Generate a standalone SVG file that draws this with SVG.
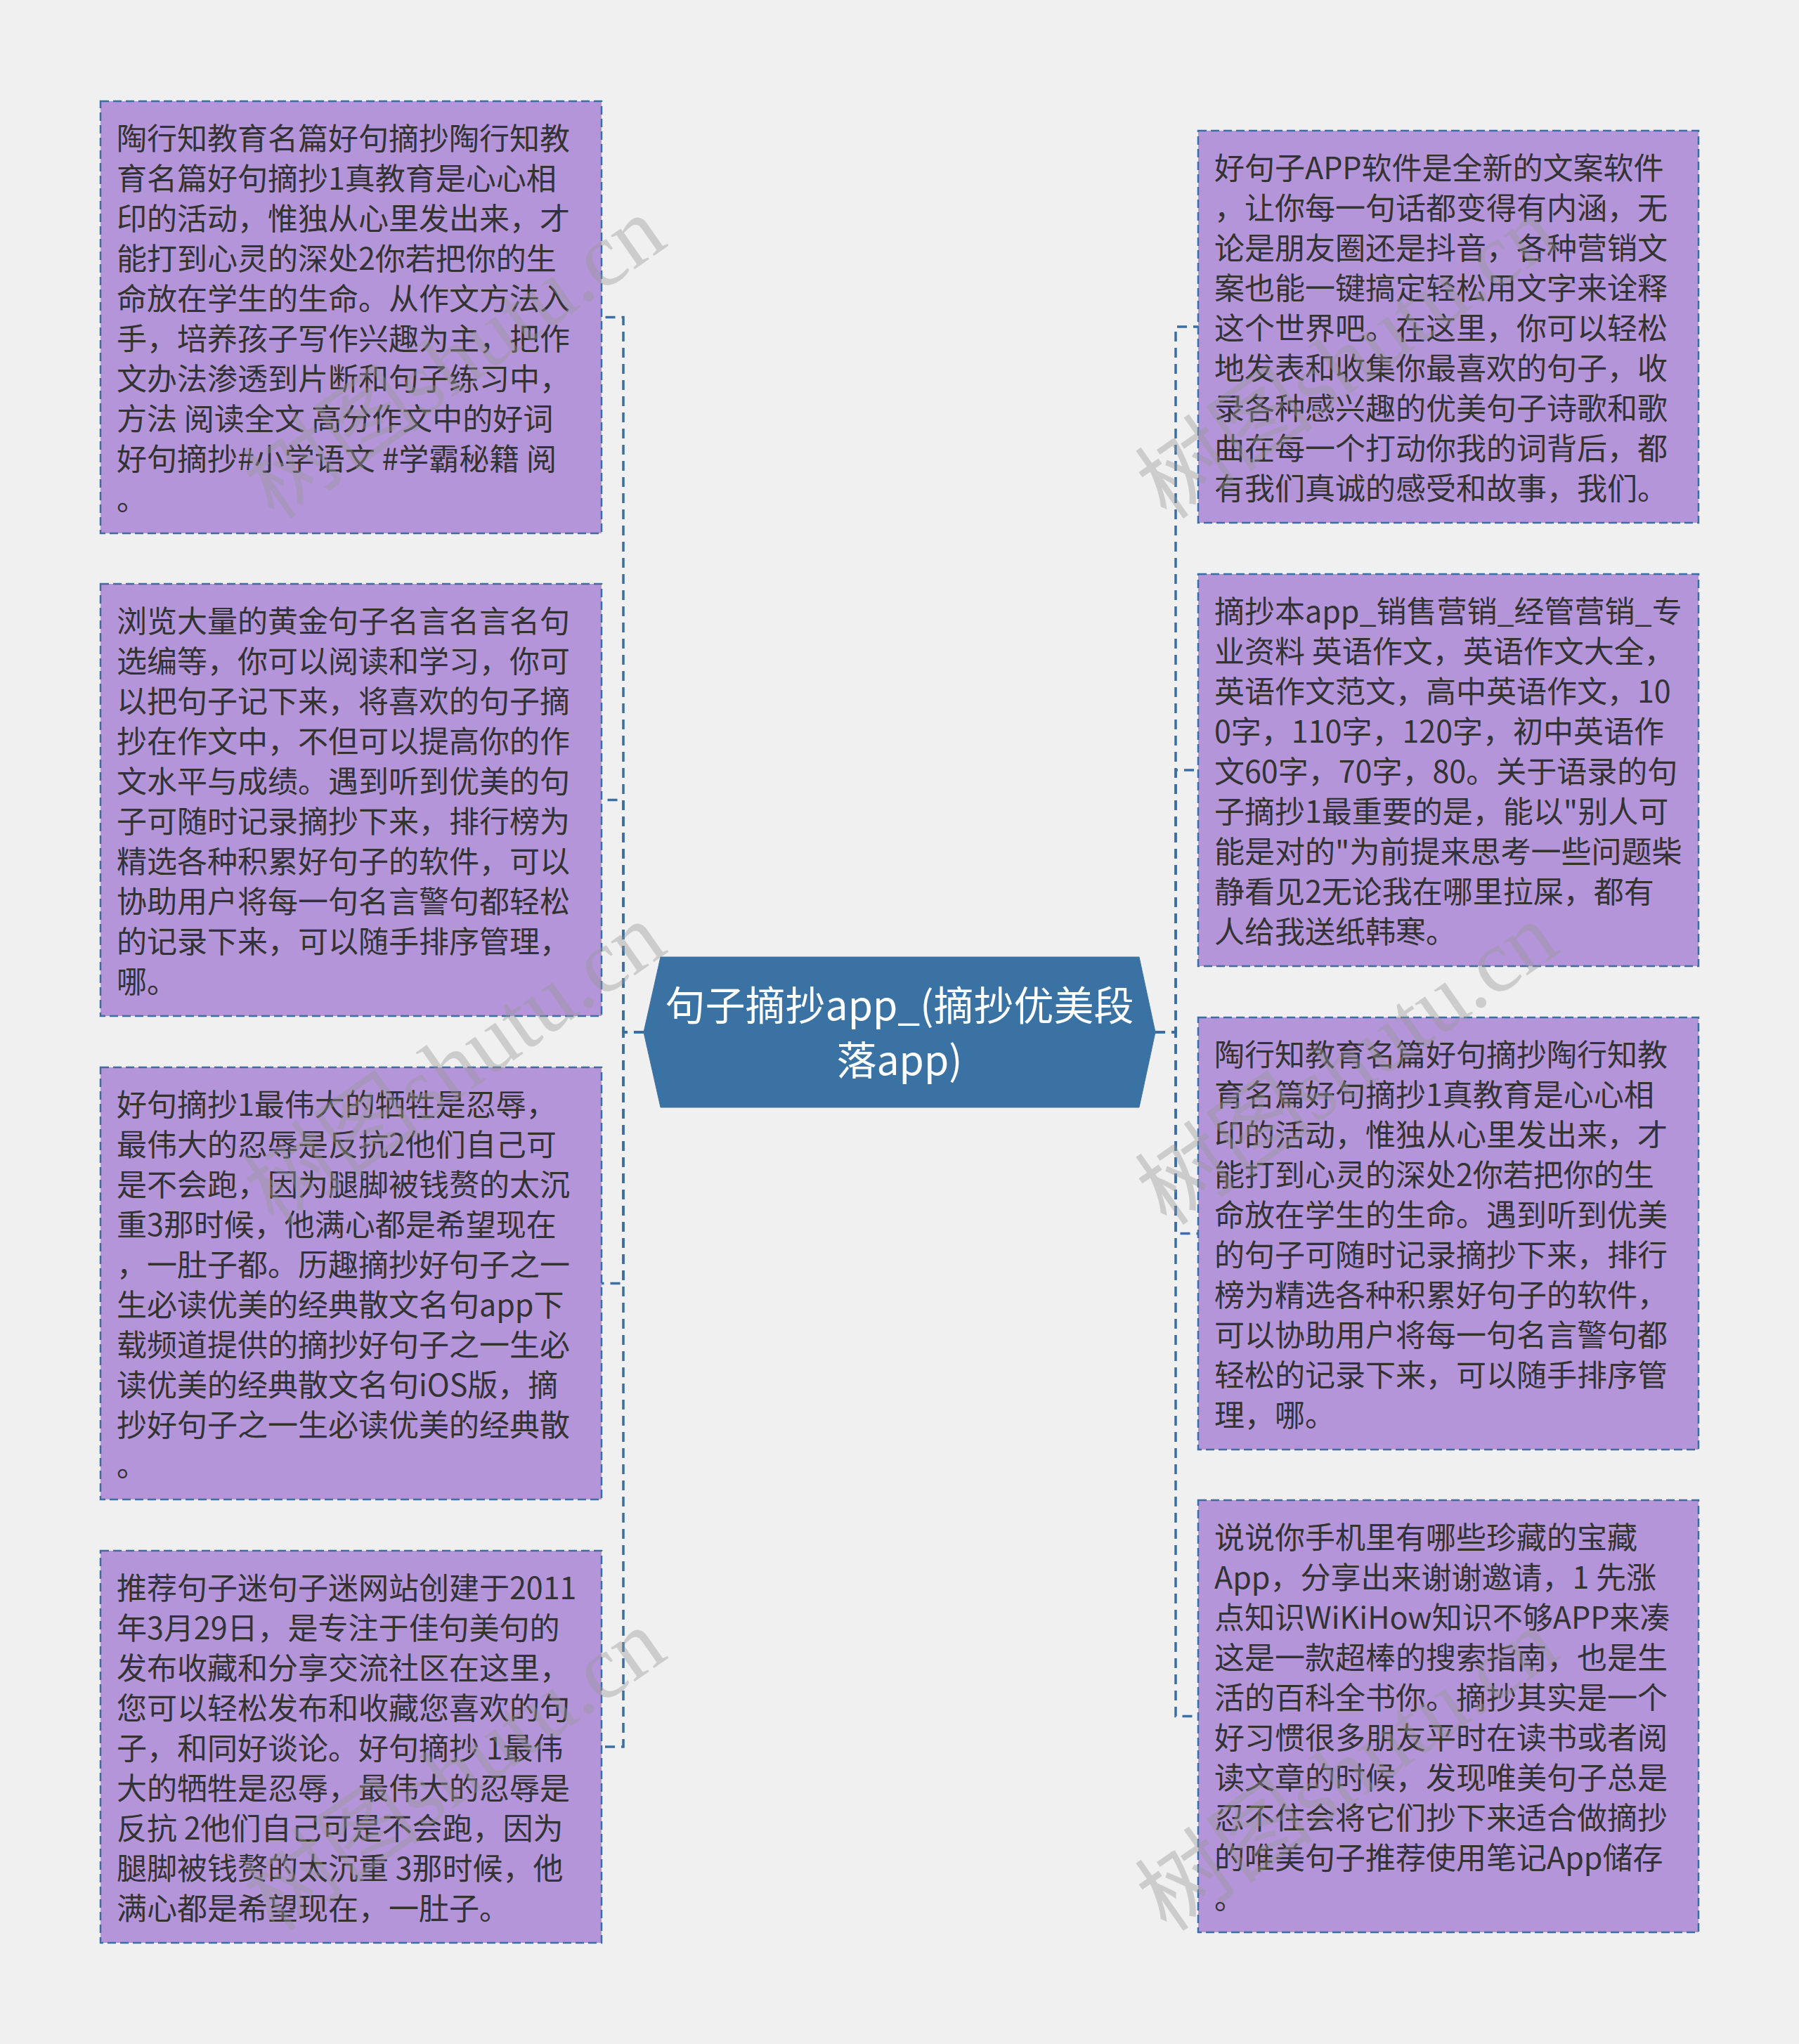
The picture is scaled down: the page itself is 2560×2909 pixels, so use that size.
<svg xmlns="http://www.w3.org/2000/svg" width="2560" height="2909" viewBox="0 0 2560 2909">
<style>
.bg{fill:#f0f0f0}
.node rect{fill:#b595da;stroke:#3b6ea3;stroke-width:2.5;stroke-dasharray:12 6}
.node text{font-family:"Noto Sans CJK SC","Microsoft YaHei",sans-serif;font-size:43px;fill:#333333}
.conn path{fill:none;stroke:#3b6ea3;stroke-width:3.5;stroke-dasharray:14 9}
.center polygon{fill:#3b72a4;stroke:#3b72a4;stroke-width:1}
.center text{font-family:"Noto Sans CJK SC","Microsoft YaHei",sans-serif;font-size:57px;fill:#ffffff;text-anchor:middle}
.wm text{font-family:"Liberation Serif","Noto Sans CJK SC",serif;font-size:128px;fill:#999999;opacity:0.4;text-anchor:middle}
</style>
<rect class="bg" x="0" y="0" width="2560" height="2909"/>

<g id="connectors" class="conn">
<path d="M916 1469 H887 V451.5 H856"/>
<path d="M916 1469 H887 V1138.5 H856"/>
<path d="M916 1469 H887 V1826.5 H856"/>
<path d="M916 1469 H887 V2486 H856"/>
<path d="M1644 1469 H1673 V465 H1705"/>
<path d="M1644 1469 H1673 V1096 H1705"/>
<path d="M1644 1469 H1673 V1755.5 H1705"/>
<path d="M1644 1469 H1673 V2442.5 H1705"/>
</g>

<g id="center" class="center">
<polygon points="940,1362 1621,1362 1644,1469 1621,1576 940,1576 916,1469"/>
<text x="1280" y="1452">句子摘抄app_(摘抄优美段</text>
<text x="1280" y="1530">落app)</text>
</g>

<g id="node-l1" class="node">
<rect x="143" y="144" width="713" height="615"/>
<text x="166" y="213">
<tspan x="166" dy="0">陶行知教育名篇好句摘抄陶行知教</tspan>
<tspan x="166" dy="57">育名篇好句摘抄1真教育是心心相</tspan>
<tspan x="166" dy="57">印的活动，惟独从心里发出来，才</tspan>
<tspan x="166" dy="57">能打到心灵的深处2你若把你的生</tspan>
<tspan x="166" dy="57">命放在学生的生命。从作文方法入</tspan>
<tspan x="166" dy="57">手，培养孩子写作兴趣为主，把作</tspan>
<tspan x="166" dy="57">文办法渗透到片断和句子练习中，</tspan>
<tspan x="166" dy="57">方法 阅读全文 高分作文中的好词</tspan>
<tspan x="166" dy="57">好句摘抄#小学语文 #学霸秘籍 阅</tspan>
<tspan x="166" dy="57">。</tspan>
</text>
</g>

<g id="node-l2" class="node">
<rect x="143" y="831" width="713" height="615"/>
<text x="166" y="900">
<tspan x="166" dy="0">浏览大量的黄金句子名言名言名句</tspan>
<tspan x="166" dy="57">选编等，你可以阅读和学习，你可</tspan>
<tspan x="166" dy="57">以把句子记下来，将喜欢的句子摘</tspan>
<tspan x="166" dy="57">抄在作文中，不但可以提高你的作</tspan>
<tspan x="166" dy="57">文水平与成绩。遇到听到优美的句</tspan>
<tspan x="166" dy="57">子可随时记录摘抄下来，排行榜为</tspan>
<tspan x="166" dy="57">精选各种积累好句子的软件，可以</tspan>
<tspan x="166" dy="57">协助用户将每一句名言警句都轻松</tspan>
<tspan x="166" dy="57">的记录下来，可以随手排序管理，</tspan>
<tspan x="166" dy="57">哪。</tspan>
</text>
</g>

<g id="node-l3" class="node">
<rect x="143" y="1519" width="713" height="615"/>
<text x="166" y="1588">
<tspan x="166" dy="0">好句摘抄1最伟大的牺牲是忍辱，</tspan>
<tspan x="166" dy="57">最伟大的忍辱是反抗2他们自己可</tspan>
<tspan x="166" dy="57">是不会跑，因为腿脚被钱赘的太沉</tspan>
<tspan x="166" dy="57">重3那时候，他满心都是希望现在</tspan>
<tspan x="166" dy="57">，一肚子都。历趣摘抄好句子之一</tspan>
<tspan x="166" dy="57">生必读优美的经典散文名句app下</tspan>
<tspan x="166" dy="57">载频道提供的摘抄好句子之一生必</tspan>
<tspan x="166" dy="57">读优美的经典散文名句iOS版，摘</tspan>
<tspan x="166" dy="57">抄好句子之一生必读优美的经典散</tspan>
<tspan x="166" dy="57">。</tspan>
</text>
</g>

<g id="node-l4" class="node">
<rect x="143" y="2207" width="713" height="558"/>
<text x="166" y="2276">
<tspan x="166" dy="0">推荐句子迷句子迷网站创建于2011</tspan>
<tspan x="166" dy="57">年3月29日，是专注于佳句美句的</tspan>
<tspan x="166" dy="57">发布收藏和分享交流社区在这里，</tspan>
<tspan x="166" dy="57">您可以轻松发布和收藏您喜欢的句</tspan>
<tspan x="166" dy="57">子，和同好谈论。好句摘抄 1最伟</tspan>
<tspan x="166" dy="57">大的牺牲是忍辱，最伟大的忍辱是</tspan>
<tspan x="166" dy="57">反抗 2他们自己可是不会跑，因为</tspan>
<tspan x="166" dy="57">腿脚被钱赘的太沉重 3那时候，他</tspan>
<tspan x="166" dy="57">满心都是希望现在，一肚子。</tspan>
</text>
</g>

<g id="node-r1" class="node">
<rect x="1705" y="186" width="712" height="558"/>
<text x="1728" y="255">
<tspan x="1728" dy="0">好句子APP软件是全新的文案软件</tspan>
<tspan x="1728" dy="57">，让你每一句话都变得有内涵，无</tspan>
<tspan x="1728" dy="57">论是朋友圈还是抖音，各种营销文</tspan>
<tspan x="1728" dy="57">案也能一键搞定轻松用文字来诠释</tspan>
<tspan x="1728" dy="57">这个世界吧。在这里，你可以轻松</tspan>
<tspan x="1728" dy="57">地发表和收集你最喜欢的句子，收</tspan>
<tspan x="1728" dy="57">录各种感兴趣的优美句子诗歌和歌</tspan>
<tspan x="1728" dy="57">曲在每一个打动你我的词背后，都</tspan>
<tspan x="1728" dy="57">有我们真诚的感受和故事，我们。</tspan>
</text>
</g>

<g id="node-r2" class="node">
<rect x="1705" y="817" width="712" height="558"/>
<text x="1728" y="886">
<tspan x="1728" dy="0">摘抄本app_销售营销_经管营销_专</tspan>
<tspan x="1728" dy="57">业资料 英语作文，英语作文大全，</tspan>
<tspan x="1728" dy="57">英语作文范文，高中英语作文，10</tspan>
<tspan x="1728" dy="57">0字，110字，120字，初中英语作</tspan>
<tspan x="1728" dy="57">文60字，70字，80。关于语录的句</tspan>
<tspan x="1728" dy="57">子摘抄1最重要的是，能以"别人可</tspan>
<tspan x="1728" dy="57">能是对的"为前提来思考一些问题柴</tspan>
<tspan x="1728" dy="57">静看见2无论我在哪里拉屎，都有</tspan>
<tspan x="1728" dy="57">人给我送纸韩寒。</tspan>
</text>
</g>

<g id="node-r3" class="node">
<rect x="1705" y="1448" width="712" height="615"/>
<text x="1728" y="1517">
<tspan x="1728" dy="0">陶行知教育名篇好句摘抄陶行知教</tspan>
<tspan x="1728" dy="57">育名篇好句摘抄1真教育是心心相</tspan>
<tspan x="1728" dy="57">印的活动，惟独从心里发出来，才</tspan>
<tspan x="1728" dy="57">能打到心灵的深处2你若把你的生</tspan>
<tspan x="1728" dy="57">命放在学生的生命。遇到听到优美</tspan>
<tspan x="1728" dy="57">的句子可随时记录摘抄下来，排行</tspan>
<tspan x="1728" dy="57">榜为精选各种积累好句子的软件，</tspan>
<tspan x="1728" dy="57">可以协助用户将每一句名言警句都</tspan>
<tspan x="1728" dy="57">轻松的记录下来，可以随手排序管</tspan>
<tspan x="1728" dy="57">理，哪。</tspan>
</text>
</g>

<g id="node-r4" class="node">
<rect x="1705" y="2135" width="712" height="615"/>
<text x="1728" y="2204">
<tspan x="1728" dy="0">说说你手机里有哪些珍藏的宝藏</tspan>
<tspan x="1728" dy="57">App，分享出来谢谢邀请，1 先涨</tspan>
<tspan x="1728" dy="57">点知识WiKiHow知识不够APP来凑</tspan>
<tspan x="1728" dy="57">这是一款超棒的搜索指南，也是生</tspan>
<tspan x="1728" dy="57">活的百科全书你。摘抄其实是一个</tspan>
<tspan x="1728" dy="57">好习惯很多朋友平时在读书或者阅</tspan>
<tspan x="1728" dy="57">读文章的时候，发现唯美句子总是</tspan>
<tspan x="1728" dy="57">忍不住会将它们抄下来适合做摘抄</tspan>
<tspan x="1728" dy="57">的唯美句子推荐使用笔记App储存</tspan>
<tspan x="1728" dy="57">。</tspan>
</text>
</g>

<g id="watermarks" class="wm">
<text transform="translate(672,545) rotate(-35)">树图shutu.cn</text>
<text transform="translate(1942,545) rotate(-35)">树图shutu.cn</text>
<text transform="translate(672,1550) rotate(-35)">树图shutu.cn</text>
<text transform="translate(1942,1550) rotate(-35)">树图shutu.cn</text>
<text transform="translate(672,2555) rotate(-35)">树图shutu.cn</text>
<text transform="translate(1942,2555) rotate(-35)">树图shutu.cn</text>
</g>
</svg>
